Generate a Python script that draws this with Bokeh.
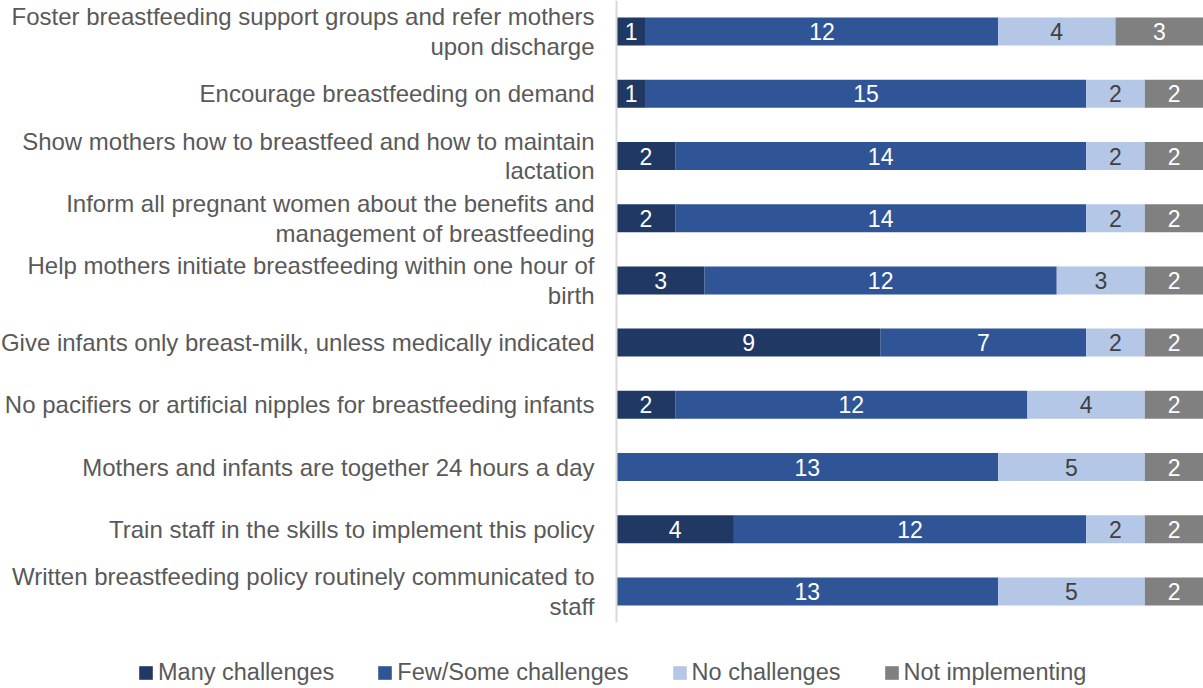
from bokeh.plotting import figure
from bokeh.models import Range1d, Legend, LegendItem, ColumnDataSource, FixedTicker, LinearAxis
from bokeh.core.properties import value
from bokeh.embed import file_html
from bokeh.resources import INLINE

categories = [
    "Foster breastfeeding support groups and refer mothers\nupon discharge",
    "Encourage breastfeeding on demand",
    "Show mothers how to breastfeed and how to maintain\nlactation",
    "Inform all pregnant women about the benefits and\nmanagement of breastfeeding",
    "Help mothers initiate breastfeeding within one hour of\nbirth",
    "Give infants only breast-milk, unless medically indicated",
    "No pacifiers or artificial nipples for breastfeeding infants",
    "Mothers and infants are together 24 hours a day",
    "Train staff in the skills to implement this policy",
    "Written breastfeeding policy routinely communicated to\nstaff",
]
series_names = ["Many challenges", "Few/Some challenges", "No challenges", "Not implementing"]
many = [1, 1, 2, 2, 3, 9, 2, 0, 4, 0]
few = [12, 15, 14, 14, 12, 7, 12, 13, 12, 13]
none_ = [4, 2, 2, 2, 3, 2, 4, 5, 2, 5]
notimpl = [3, 2, 2, 2, 2, 2, 2, 2, 2, 2]

colors = ["#203864", "#2F5597", "#B4C7E7", "#808080"]
label_colors = ["#FFFFFF", "#FFFFFF", "#404040", "#FFFFFF"]
keys = ["many", "few", "none", "notimpl"]
series = [many, few, none_, notimpl]

FONT = "Liberation Sans"
W, H = 1203, 688
LEFT = 616          # pixel where the value axis starts
ROW = 62.2          # pixel height of one category row
TOTAL = 20

pos = list(range(len(categories)))  # 0 = top row
src = ColumnDataSource(dict(pos=pos, many=many, few=few, none=none_, notimpl=notimpl))

unit = (W - LEFT) / TOTAL
p = figure(
    width=W, height=H,
    x_range=Range1d(-LEFT / unit, TOTAL),
    y_range=Range1d(H / ROW - 0.5, -0.5),
    output_backend="svg", toolbar_location=None,
    min_border_left=0, min_border_right=0, min_border_top=0, min_border_bottom=0,
    x_axis_location=None, y_axis_location=None,
)
p.outline_line_color = None
p.xgrid.visible = False
p.ygrid.visible = False

rs = p.hbar_stack(keys, y="pos", height=0.45, color=colors, source=src, line_color=None)

# data labels
for i, vals in enumerate(series):
    xs, ys, ts = [], [], []
    for j, v in enumerate(vals):
        if v == 0:
            continue
        left = sum(series[k][j] for k in range(i))
        xs.append(left + v / 2)
        ys.append(pos[j])
        ts.append(str(v))
    p.text(x=xs, y=ys, text=ts, text_align="center", text_baseline="middle",
           text_font=value(FONT), text_font_size="23px", text_color=label_colors[i])

ax = LinearAxis(fixed_location=0)
ax.ticker = FixedTicker(ticks=pos)
ax.major_label_overrides = {i: c for i, c in enumerate(categories)}
ax.bounds = (-0.5, len(categories) - 0.5)
ax.axis_line_color = "#D9D9D9"
ax.axis_line_width = 2
ax.major_tick_line_color = None
ax.minor_tick_line_color = None
ax.major_label_standoff = 16
ax.major_label_text_font = FONT
ax.major_label_text_font_size = "24px"
ax.major_label_text_color = "#595959"
ax.major_label_text_line_height = 1.1
p.add_layout(ax, "left")

legend = Legend(
    items=[LegendItem(label=n, renderers=[r]) for n, r in zip(series_names, rs)],
    orientation="horizontal", location=(137, 2),
    label_text_font=FONT, label_text_font_size="23.5px", label_text_color="#595959",
    glyph_width=17, glyph_height=17, label_standoff=4, spacing=42,
    background_fill_alpha=0, border_line_color=None, padding=0, margin=0,
)
p.add_layout(legend, "center")

open("out.html", "w").write(file_html(p, INLINE))
